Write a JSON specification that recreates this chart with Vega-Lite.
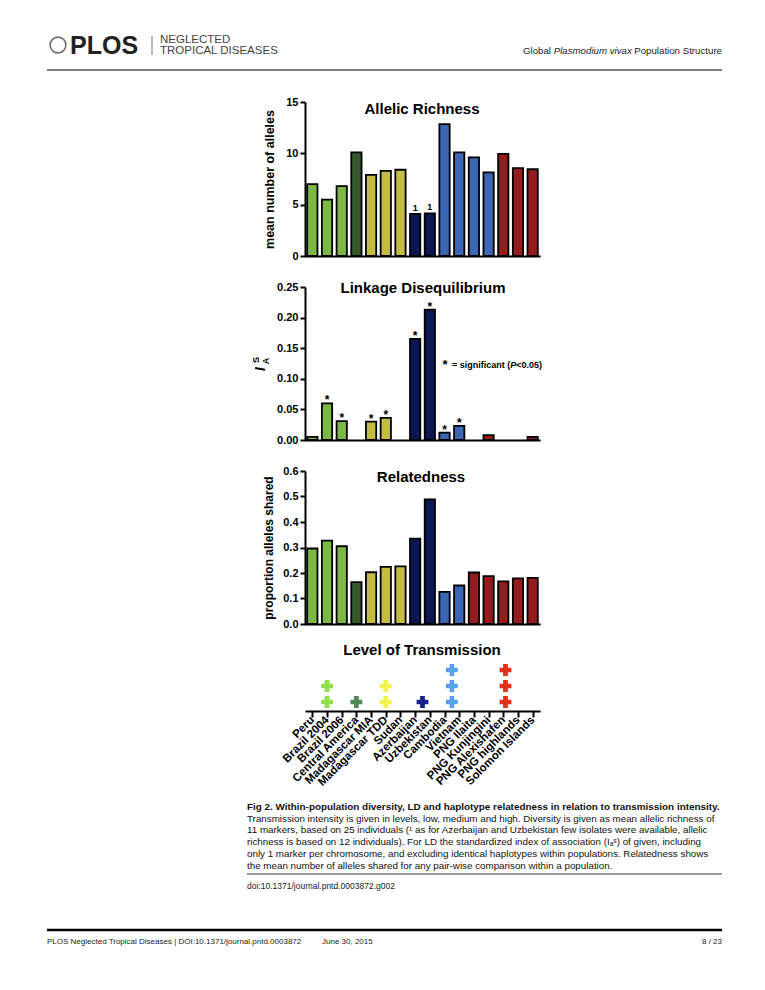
{
  "$schema": "https://vega.github.io/schema/vega-lite/v6.json",
  "background": "white",
  "padding": {"left": 45, "top": 31, "right": 0, "bottom": 0},
  "bounds": "flush",
  "spacing": 31,
  "config": {
    "view": {"stroke": null},
    "font": "Liberation Sans",
    "text": {"font": "Liberation Sans"},
    "axis": {"domainColor": "black", "domainWidth": 2, "tickColor": "black", "tickWidth": 2, "tickSize": 5, "labelFont": "Liberation Sans", "labelFontWeight": "bold", "labelFontSize": 11, "labelColor": "black", "labelPadding": 2, "labelOverlap": false, "titleFont": "Liberation Sans", "titleFontWeight": "bold", "titleFontSize": 12, "titleColor": "black", "grid": false}
  },
  "datasets": {
    "pops": [
      {"pop": "Peru"}, {"pop": "Brazil 2004"}, {"pop": "Brazil 2006"}, {"pop": "Central America"},
      {"pop": "Madagascar MIA"}, {"pop": "Madagascar TDD"}, {"pop": "Sudan"}, {"pop": "Azerbaijan"},
      {"pop": "Uzbekistan"}, {"pop": "Cambodia"}, {"pop": "Vietnam"}, {"pop": "PNG Ilaita"},
      {"pop": "PNG Kunjingini"}, {"pop": "PNG Alexishafen"}, {"pop": "PNG highlands"}, {"pop": "Solomon Islands"}
    ],
    "allelic": [
      {"pop": "Peru", "region": "South America", "value": 7.0, "note": ""},
      {"pop": "Brazil 2004", "region": "South America", "value": 5.5, "note": ""},
      {"pop": "Brazil 2006", "region": "South America", "value": 6.8, "note": ""},
      {"pop": "Central America", "region": "Central America", "value": 10.1, "note": ""},
      {"pop": "Madagascar MIA", "region": "Africa", "value": 7.9, "note": ""},
      {"pop": "Madagascar TDD", "region": "Africa", "value": 8.3, "note": ""},
      {"pop": "Sudan", "region": "Africa", "value": 8.4, "note": ""},
      {"pop": "Azerbaijan", "region": "Central Asia", "value": 4.1, "note": "1"},
      {"pop": "Uzbekistan", "region": "Central Asia", "value": 4.15, "note": "1"},
      {"pop": "Cambodia", "region": "Southeast Asia", "value": 12.85, "note": ""},
      {"pop": "Vietnam", "region": "Southeast Asia", "value": 10.1, "note": ""},
      {"pop": "PNG Ilaita", "region": "Southeast Asia", "value": 9.6, "note": ""},
      {"pop": "PNG Kunjingini", "region": "Southeast Asia", "value": 8.15, "note": ""},
      {"pop": "PNG Alexishafen", "region": "Pacific", "value": 9.95, "note": ""},
      {"pop": "PNG highlands", "region": "Pacific", "value": 8.55, "note": ""},
      {"pop": "Solomon Islands", "region": "Pacific", "value": 8.45, "note": ""}
    ],
    "ld": [
      {"pop": "Peru", "region": "South America", "value": 0.005, "sig": false},
      {"pop": "Brazil 2004", "region": "South America", "value": 0.060, "sig": true},
      {"pop": "Brazil 2006", "region": "South America", "value": 0.031, "sig": true},
      {"pop": "Madagascar MIA", "region": "Africa", "value": 0.030, "sig": true},
      {"pop": "Madagascar TDD", "region": "Africa", "value": 0.036, "sig": true},
      {"pop": "Azerbaijan", "region": "Central Asia", "value": 0.165, "sig": true},
      {"pop": "Uzbekistan", "region": "Central Asia", "value": 0.213, "sig": true},
      {"pop": "Cambodia", "region": "Southeast Asia", "value": 0.012, "sig": true},
      {"pop": "Vietnam", "region": "Southeast Asia", "value": 0.023, "sig": true},
      {"pop": "PNG Kunjingini", "region": "Pacific", "value": 0.008, "sig": false},
      {"pop": "Solomon Islands", "region": "Pacific", "value": 0.005, "sig": false}
    ],
    "related": [
      {"pop": "Peru", "region": "South America", "value": 0.296},
      {"pop": "Brazil 2004", "region": "South America", "value": 0.327},
      {"pop": "Brazil 2006", "region": "South America", "value": 0.305},
      {"pop": "Central America", "region": "Central America", "value": 0.164},
      {"pop": "Madagascar MIA", "region": "Africa", "value": 0.203},
      {"pop": "Madagascar TDD", "region": "Africa", "value": 0.224},
      {"pop": "Sudan", "region": "Africa", "value": 0.226},
      {"pop": "Azerbaijan", "region": "Central Asia", "value": 0.335},
      {"pop": "Uzbekistan", "region": "Central Asia", "value": 0.489},
      {"pop": "Cambodia", "region": "Southeast Asia", "value": 0.126},
      {"pop": "Vietnam", "region": "Southeast Asia", "value": 0.151},
      {"pop": "PNG Ilaita", "region": "Pacific", "value": 0.202},
      {"pop": "PNG Kunjingini", "region": "Pacific", "value": 0.188},
      {"pop": "PNG Alexishafen", "region": "Pacific", "value": 0.167},
      {"pop": "PNG highlands", "region": "Pacific", "value": 0.179},
      {"pop": "Solomon Islands", "region": "Pacific", "value": 0.181}
    ],
    "transmission": [
      {"region": "South America", "center": 1, "level": 1},
      {"region": "South America", "center": 1, "level": 2},
      {"region": "Central America", "center": 3, "level": 1},
      {"region": "Africa", "center": 5, "level": 1},
      {"region": "Africa", "center": 5, "level": 2},
      {"region": "Central Asia", "center": 7.5, "level": 1},
      {"region": "Southeast Asia", "center": 9.5, "level": 1},
      {"region": "Southeast Asia", "center": 9.5, "level": 2},
      {"region": "Southeast Asia", "center": 9.5, "level": 3},
      {"region": "Pacific", "center": 13.15, "level": 1},
      {"region": "Pacific", "center": 13.15, "level": 2},
      {"region": "Pacific", "center": 13.15, "level": 3}
    ]
  },
  "vconcat": [
    {
      "width": 235, "height": 40,
      "data": {"values": [{}]},
      "layer": [
        {"mark": {"type": "point", "shape": "circle", "size": 250, "filled": false, "stroke": "#333", "strokeWidth": 1.6}, "encoding": {"x": {"value": -247}, "y": {"value": 14}}},
        {"mark": {"type": "text", "text": "PLOS", "fontSize": 25, "fontWeight": "bold", "align": "left", "baseline": "middle", "color": "#222"}, "encoding": {"x": {"value": -235}, "y": {"value": 15}}},
        {"mark": {"type": "rule", "color": "#777", "strokeWidth": 1}, "encoding": {"x": {"value": -153}, "y": {"value": 5}, "y2": {"value": 24}}},
        {"mark": {"type": "text", "text": "NEGLECTED", "fontSize": 11.5, "align": "left", "baseline": "middle", "color": "#444"}, "encoding": {"x": {"value": -145}, "y": {"value": 9}}},
        {"mark": {"type": "text", "text": "TROPICAL DISEASES", "fontSize": 11.5, "align": "left", "baseline": "middle", "color": "#444"}, "encoding": {"x": {"value": -145}, "y": {"value": 20}}},
        {"mark": {"type": "text", "text": "Global", "fontSize": 9.7, "align": "left", "baseline": "middle", "color": "#222"}, "encoding": {"x": {"value": 218}, "y": {"value": 20}}},
        {"mark": {"type": "text", "text": "Plasmodium vivax", "fontSize": 9.7, "fontStyle": "italic", "align": "left", "baseline": "middle", "color": "#222"}, "encoding": {"x": {"value": 248.7}, "y": {"value": 20}}},
        {"mark": {"type": "text", "text": "Population Structure", "fontSize": 9.7, "align": "right", "baseline": "middle", "color": "#222"}, "encoding": {"x": {"value": 417}, "y": {"value": 20}}},
        {"mark": {"type": "rule", "color": "black", "strokeWidth": 1}, "encoding": {"x": {"value": -258}, "x2": {"value": 417}, "y": {"value": 39}}}
      ]
    },
    {
      "width": 235, "height": 154,
      "data": {"name": "allelic"},
      "encoding": {
        "x": {"field": "pop", "type": "nominal", "sort": null, "scale": {"paddingInner": 0.3, "paddingOuter": 0.15}, "axis": {"labels": false, "ticks": false, "title": null}},
        "y": {"field": "value", "type": "quantitative", "scale": {"domain": [0, 15], "nice": false}, "axis": {"values": [0, 5, 10, 15], "title": "mean number of alleles", "titleFontSize": 12.5, "titlePadding": 9, "labelOverlap": false}}
      },
      "layer": [
        {
          "mark": {"type": "bar", "stroke": "black", "strokeWidth": 1.8},
          "encoding": {
            "fill": {"field": "region", "type": "nominal", "legend": null, "scale": {"domain": ["South America", "Central America", "Africa", "Central Asia", "Southeast Asia", "Pacific"], "range": ["#7db843", "#37572f", "#c2bb45", "#0b1652", "#3d66b3", "#951c1c"]}}
          }
        },
        {
          "transform": [{"filter": "datum.note != ''"}],
          "mark": {"type": "text", "fontWeight": "bold", "fontSize": 9, "baseline": "alphabetic", "dy": -3},
          "encoding": {"text": {"field": "note"}}
        },
        {
          "data": {"values": [{}]},
          "mark": {"type": "text", "text": "Allelic Richness", "fontSize": 15, "fontWeight": "bold", "align": "center", "baseline": "middle"},
          "encoding": {"x": {"value": 117}, "y": {"value": 7}}
        }
      ]
    },
    {
      "width": 235, "height": 153,
      "data": {"name": "ld"},
      "encoding": {
        "x": {"field": "pop", "type": "nominal", "scale": {"domain": ["Peru", "Brazil 2004", "Brazil 2006", "Central America", "Madagascar MIA", "Madagascar TDD", "Sudan", "Azerbaijan", "Uzbekistan", "Cambodia", "Vietnam", "PNG Ilaita", "PNG Kunjingini", "PNG Alexishafen", "PNG highlands", "Solomon Islands"], "paddingInner": 0.3, "paddingOuter": 0.15}, "axis": {"labels": false, "ticks": false, "title": null}},
        "y": {"field": "value", "type": "quantitative", "scale": {"domain": [0, 0.25], "nice": false}, "axis": {"values": [0, 0.05, 0.1, 0.15, 0.2, 0.25], "tickCount": 6, "format": ".2f", "title": null, "labelOverlap": false}}
      },
      "layer": [
        {
          "mark": {"type": "bar", "stroke": "black", "strokeWidth": 1.8},
          "encoding": {
            "fill": {"field": "region", "type": "nominal", "legend": null, "scale": {"domain": ["South America", "Central America", "Africa", "Central Asia", "Southeast Asia", "Pacific"], "range": ["#7db843", "#37572f", "#c2bb45", "#0b1652", "#3d66b3", "#951c1c"]}}
          }
        },
        {
          "transform": [{"filter": "datum.sig"}],
          "mark": {"type": "text", "text": "*", "fontWeight": "bold", "fontSize": 12, "baseline": "alphabetic", "dy": 1}
        },
        {"data": {"values": [{}]}, "mark": {"type": "text", "text": "Linkage Disequilibrium", "fontSize": 15, "fontWeight": "bold", "align": "center", "baseline": "middle"}, "encoding": {"x": {"value": 118}, "y": {"value": 1}}},
        {"data": {"values": [{}]}, "mark": {"type": "text", "text": "*", "fontSize": 13, "fontWeight": "bold", "align": "center", "baseline": "alphabetic"}, "encoding": {"x": {"value": 140}, "y": {"value": 82}}},
        {"data": {"values": [{}]}, "mark": {"type": "text", "text": "= significant (", "fontSize": 9, "fontWeight": "bold", "align": "left", "baseline": "middle"}, "encoding": {"x": {"value": 147}, "y": {"value": 78}}},
        {"data": {"values": [{}]}, "mark": {"type": "text", "text": "P", "fontSize": 9, "fontWeight": "bold", "fontStyle": "italic", "align": "left", "baseline": "middle"}, "encoding": {"x": {"value": 205.3}, "y": {"value": 78}}},
        {"data": {"values": [{}]}, "mark": {"type": "text", "text": "<0.05)", "fontSize": 9, "fontWeight": "bold", "align": "left", "baseline": "middle"}, "encoding": {"x": {"value": 211.3}, "y": {"value": 78}}},
        {"data": {"values": [{}]}, "mark": {"type": "text", "text": "I", "fontSize": 14, "fontWeight": "bold", "fontStyle": "italic", "angle": 270, "align": "center", "baseline": "middle"}, "encoding": {"x": {"value": -44}, "y": {"value": 82}}},
        {"data": {"values": [{}]}, "mark": {"type": "text", "text": "A", "fontSize": 9, "fontWeight": "bold", "angle": 270, "align": "center", "baseline": "middle"}, "encoding": {"x": {"value": -39}, "y": {"value": 74}}},
        {"data": {"values": [{}]}, "mark": {"type": "text", "text": "S", "fontSize": 9, "fontWeight": "bold", "angle": 270, "align": "center", "baseline": "middle"}, "encoding": {"x": {"value": -49}, "y": {"value": 73}}}
      ]
    },
    {
      "width": 235, "height": 153,
      "data": {"name": "related"},
      "encoding": {
        "x": {"field": "pop", "type": "nominal", "sort": null, "scale": {"paddingInner": 0.3, "paddingOuter": 0.15}, "axis": {"labels": false, "ticks": false, "title": null}},
        "y": {"field": "value", "type": "quantitative", "scale": {"domain": [0, 0.6], "nice": false}, "axis": {"values": [0, 0.1, 0.2, 0.3, 0.4, 0.5, 0.6], "format": ".1f", "title": "proportion alleles shared", "titlePadding": 7, "labelOverlap": false}}
      },
      "layer": [
        {
          "mark": {"type": "bar", "stroke": "black", "strokeWidth": 1.8},
          "encoding": {
            "fill": {"field": "region", "type": "nominal", "legend": null, "scale": {"domain": ["South America", "Central America", "Africa", "Central Asia", "Southeast Asia", "Pacific"], "range": ["#7db843", "#37572f", "#c2bb45", "#0b1652", "#3d66b3", "#951c1c"]}}
          }
        },
        {"data": {"values": [{}]}, "mark": {"type": "text", "text": "Relatedness", "fontSize": 15, "fontWeight": "bold", "align": "center", "baseline": "middle"}, "encoding": {"x": {"value": 116}, "y": {"value": 6}}}
      ]
    },
    {
      "width": 235, "height": 56,
      "layer": [
        {
          "data": {"name": "pops"},
          "mark": {"type": "point", "opacity": 0},
          "encoding": {
            "x": {"field": "pop", "type": "nominal", "sort": null, "axis": {"title": null, "labelAngle": -45, "labelAlign": "right", "labelBaseline": "middle", "labelFontSize": 11.5, "tickSize": 6, "labelPadding": 1}}
          }
        },
        {
          "data": {"name": "transmission"},
          "mark": {"type": "point", "shape": "cross", "filled": true, "size": 140, "opacity": 1},
          "encoding": {
            "x": {"field": "center", "type": "quantitative", "scale": {"domain": [-0.5, 15.5], "nice": false, "zero": false}, "axis": null},
            "y": {"field": "level", "type": "quantitative", "scale": {"domain": [0.4375, 3.9375], "nice": false, "zero": false}, "axis": null},
            "color": {"field": "region", "type": "nominal", "legend": null, "scale": {"domain": ["South America", "Central America", "Africa", "Central Asia", "Southeast Asia", "Pacific"], "range": ["#8fe04a", "#4e8a56", "#f2f24e", "#14208c", "#5aa0f0", "#e0301a"]}}
          }
        },
        {"data": {"values": [{}]}, "mark": {"type": "text", "text": "Level of Transmission", "fontSize": 15, "fontWeight": "bold", "align": "center", "baseline": "middle"}, "encoding": {"x": {"value": 117}, "y": {"value": -5}}}
      ],
      "resolve": {"scale": {"x": "independent"}}
    },
    {
      "width": 235, "height": 200,
      "data": {"values": [{}]},
      "layer": [
        {"mark": {"type": "text", "text": "Fig 2.  Within-population diversity, LD and haplotype relatedness in relation to transmission intensity.", "fontSize": 9.9, "fontWeight": "bold", "align": "left", "baseline": "middle", "color": "#111"}, "encoding": {"x": {"value": -58}, "y": {"value": 65}}},
        {"mark": {"type": "text", "text": "Transmission intensity is given in levels, low, medium and high. Diversity is given as mean allelic richness of", "fontSize": 9.8, "align": "left", "baseline": "middle", "color": "#111"}, "encoding": {"x": {"value": -58}, "y": {"value": 76.5}}},
        {"mark": {"type": "text", "text": "11 markers, based on 25 individuals (¹ as for Azerbaijan and Uzbekistan few isolates were available, allelic", "fontSize": 9.8, "align": "left", "baseline": "middle", "color": "#111"}, "encoding": {"x": {"value": -58}, "y": {"value": 88.3}}},
        {"mark": {"type": "text", "text": "richness is based on 12 individuals). For LD the standardized index of association (Iₐˢ) of given, including", "fontSize": 9.8, "align": "left", "baseline": "middle", "color": "#111"}, "encoding": {"x": {"value": -58}, "y": {"value": 100.1}}},
        {"mark": {"type": "text", "text": "only 1 marker per chromosome, and excluding identical haplotypes within populations. Relatedness shows", "fontSize": 9.8, "align": "left", "baseline": "middle", "color": "#111"}, "encoding": {"x": {"value": -58}, "y": {"value": 111.9}}},
        {"mark": {"type": "text", "text": "the mean number of alleles shared for any pair-wise comparison within a population.", "fontSize": 9.8, "align": "left", "baseline": "middle", "color": "#111"}, "encoding": {"x": {"value": -58}, "y": {"value": 123.7}}},
        {"mark": {"type": "rule", "color": "#999", "strokeWidth": 2}, "encoding": {"x": {"value": -58}, "x2": {"value": 417}, "y": {"value": 132}}},
        {"mark": {"type": "text", "text": "doi:10.1371/journal.pntd.0003872.g002", "fontSize": 8.5, "align": "left", "baseline": "middle", "color": "#222"}, "encoding": {"x": {"value": -58}, "y": {"value": 144}}},
        {"mark": {"type": "rule", "color": "black", "strokeWidth": 2.5}, "encoding": {"x": {"value": -258}, "x2": {"value": 417}, "y": {"value": 188}}},
        {"mark": {"type": "text", "text": "PLOS Neglected Tropical Diseases | DOI:10.1371/journal.pntd.0003872", "fontSize": 8, "align": "left", "baseline": "middle", "color": "#222"}, "encoding": {"x": {"value": -258}, "y": {"value": 200}}},
        {"mark": {"type": "text", "text": "June 30, 2015", "fontSize": 8, "align": "left", "baseline": "middle", "color": "#222"}, "encoding": {"x": {"value": 17}, "y": {"value": 200}}},
        {"mark": {"type": "text", "text": "8 / 23", "fontSize": 8, "align": "right", "baseline": "middle", "color": "#222"}, "encoding": {"x": {"value": 417}, "y": {"value": 200}}}
      ]
    }
  ]
}
